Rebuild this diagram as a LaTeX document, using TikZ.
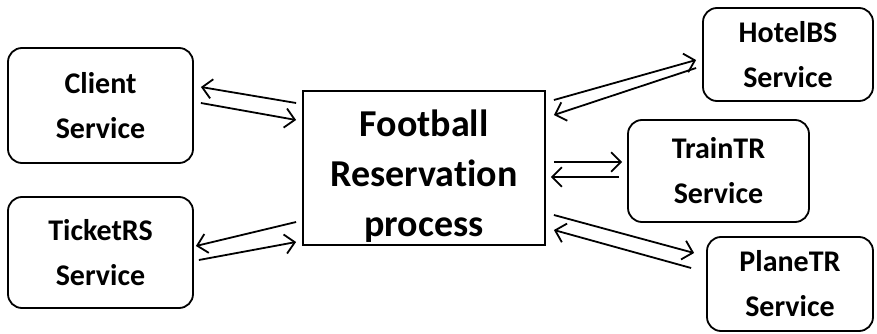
\documentclass[tikz,border=0pt]{standalone}
\usepackage{fontspec}
\setmainfont{Carlito}[Ligatures=NoCommon]
\usetikzlibrary{calc,arrows.meta}

\begin{document}
\begin{tikzpicture}[x=1pt,y=-1pt,
    service/.style={draw, line width=1.8pt, rounded corners=14pt, align=center,
      font=\fontsize{30}{45}\selectfont\bfseries, inner sep=0pt},
    msg/.style={line width=1.8pt, -{Straight Barb[scale=1.9]}}]
  \useasboundingbox (0,0) rectangle (877,334);

  % central process
  \node [draw, line width=1.8pt, minimum width=242pt, minimum height=154pt, inner sep=0pt](proc) at (424,168) {};
  \node [align=center, font=\fontsize{38}{50}\selectfont\bfseries](proctext) at (424,176) {Football\\Reservation\\process};

  % services
  \node [service, minimum width=185pt, minimum height=115pt](client) at (100.5,105.5) {Client\\Service};
  \node [service, minimum width=185pt, minimum height=111pt](ticket) at (100.5,252.5) {TicketRS\\Service};
  \node [service, minimum width=170pt, minimum height=93pt](hotel) at (788,54.5) {HotelBS\\Service};
  \node [service, minimum width=181pt, minimum height=102pt](train) at (718.5,171) {TrainTR\\Service};
  \node [service, minimum width=166pt, minimum height=94pt](plane) at (790,284) {PlaneTR\\Service};

  % messages, left side
  \draw [msg] ($(proc.west)+(-6,-65)$) -- ($(client.east)+(7,-18.5)$);
  \draw [msg] ($(client.east)+(7,-2.5)$) -- ($(proc.west)+(-6,-48)$);
  \draw [msg] ($(proc.west)+(-6,54)$) -- ($(ticket.east)+(2,-6.5)$);
  \draw [msg] ($(ticket.east)+(5,7.5)$) -- ($(proc.west)+(-6,74)$);

  % messages, right side
  \draw [msg] ($(proc.east)+(8,-68)$) -- ($(hotel.west)+(-6,5.5)$);
  \draw [msg] ($(hotel.west)+(-6,13.5)$) -- ($(proc.east)+(8,-53)$);
  \draw [msg] ($(proc.east)+(8,-6)$) -- ($(train.west)+(-5,-9)$);
  \draw [msg] ($(train.west)+(-8,6)$) -- ($(proc.east)+(5,9)$);
  \draw [msg] ($(proc.east)+(8,47)$) -- ($(plane.west)+(-12,-31)$);
  \draw [msg] ($(plane.west)+(-15,-16)$) -- ($(proc.east)+(8,62)$);
\end{tikzpicture}
\end{document}
